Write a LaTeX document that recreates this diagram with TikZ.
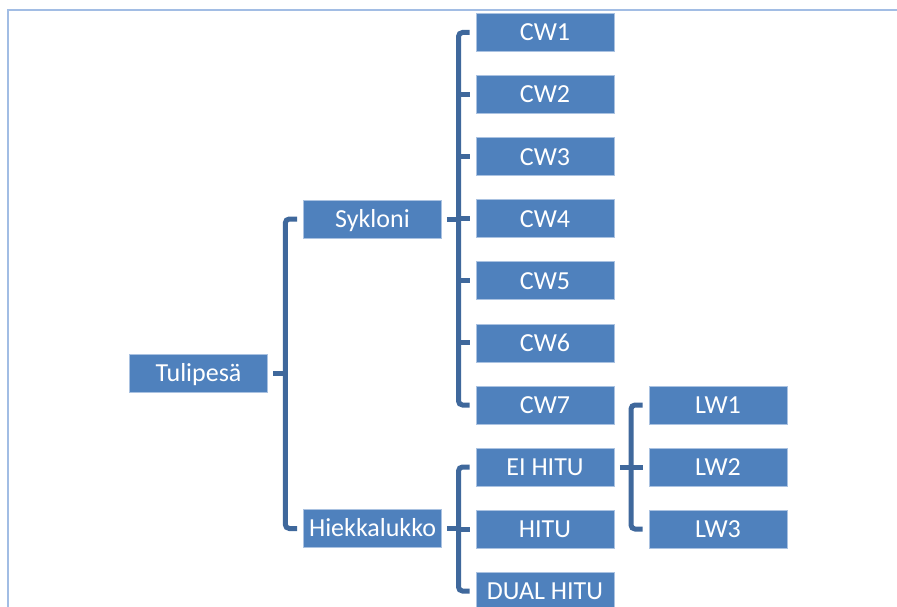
\documentclass[tikz,border=0pt]{standalone}
\usepackage{fontspec}
\setmainfont{Carlito}
\definecolor{boxfill}{RGB}{79,129,189}
\definecolor{boxline}{RGB}{170,194,225}
\definecolor{connc}{RGB}{63,104,156}
\definecolor{framec}{RGB}{162,189,228}
\begin{document}
\begin{tikzpicture}[x=1pt,y=-1pt,
  box/.style={rectangle, fill=boxfill, draw=boxline, line width=0.8pt,
    minimum width=138pt, minimum height=38pt, inner sep=0pt, text=white,
    font=\fontsize{26}{30}\selectfont, text height=16.7pt, text depth=0pt},
  conn/.style={draw=connc, line width=5pt, rounded corners=4pt},
  framel/.style={draw=framec, line width=2.5pt}]
\clip (0,0) rectangle (897,607);
\fill[white] (0,0) rectangle (897,607);
\draw[framel] (8,700) -- (8,10) -- (1000,10);
% nodes
\node[box] (tul) at (198.5,373.5) {Tulipesä};
\node[box] (syk) at (372.5,219) {Sykloni};
\node[box] (hiek) at (372.5,528.5) {Hiekkalukko};
\node[box] (cw1) at (545,32.5) {CW1};
\node[box] (cw2) at (545,94.6) {CW2};
\node[box] (cw3) at (545,156.7) {CW3};
\node[box] (cw4) at (545,218.7) {CW4};
\node[box] (cw5) at (545,280.8) {CW5};
\node[box] (cw6) at (545,342.9) {CW6};
\node[box] (cw7) at (545,405) {CW7};
\node[box] (ei) at (545,467) {EI HITU};
\node[box] (hitu) at (545,529) {HITU};
\node[box] (dual) at (545,591) {DUAL HITU};
\node[box] (lw1) at (718,405) {LW1};
\node[box] (lw2) at (718,467) {LW2};
\node[box] (lw3) at (718,529) {LW3};
% bracket x positions
\coordinate (b1) at (285.3,0);
\coordinate (b2) at (458.5,0);
\coordinate (b3) at (631,0);
% Tulipesa
\draw[conn] ([xshift=5.5pt]tul.east) -- (b1 |- tul.east);
\draw[conn] ([xshift=-6pt]syk.west) -| (b1 |- hiek.west) -- ([xshift=-6pt]hiek.west);
% Sykloni
\draw[conn] ([xshift=5pt]syk.east) -- (b2 |- syk.east);
\draw[conn] ([xshift=-6pt]cw1.west) -| (b2 |- cw7.west) -- ([xshift=-6pt]cw7.west);
\foreach \n in {cw2,cw3,cw4,cw5,cw6}
  \draw[conn] (b2 |- \n.west) -- ([xshift=-6pt]\n.west);
% Hiekkalukko
\draw[conn] ([xshift=5pt]hiek.east) -- (b2 |- hiek.east);
\draw[conn] ([xshift=-6pt]ei.west) -| (b2 |- dual.west) -- ([xshift=-6pt]dual.west);
\draw[conn] (b2 |- hitu.west) -- ([xshift=-6pt]hitu.west);
% EI HITU
\draw[conn] ([xshift=5.5pt]ei.east) -- (b3 |- ei.east);
\draw[conn] ([xshift=-6pt]lw1.west) -| (b3 |- lw3.west) -- ([xshift=-6pt]lw3.west);
\draw[conn] (b3 |- lw2.west) -- ([xshift=-6pt]lw2.west);
\end{tikzpicture}
\end{document}
